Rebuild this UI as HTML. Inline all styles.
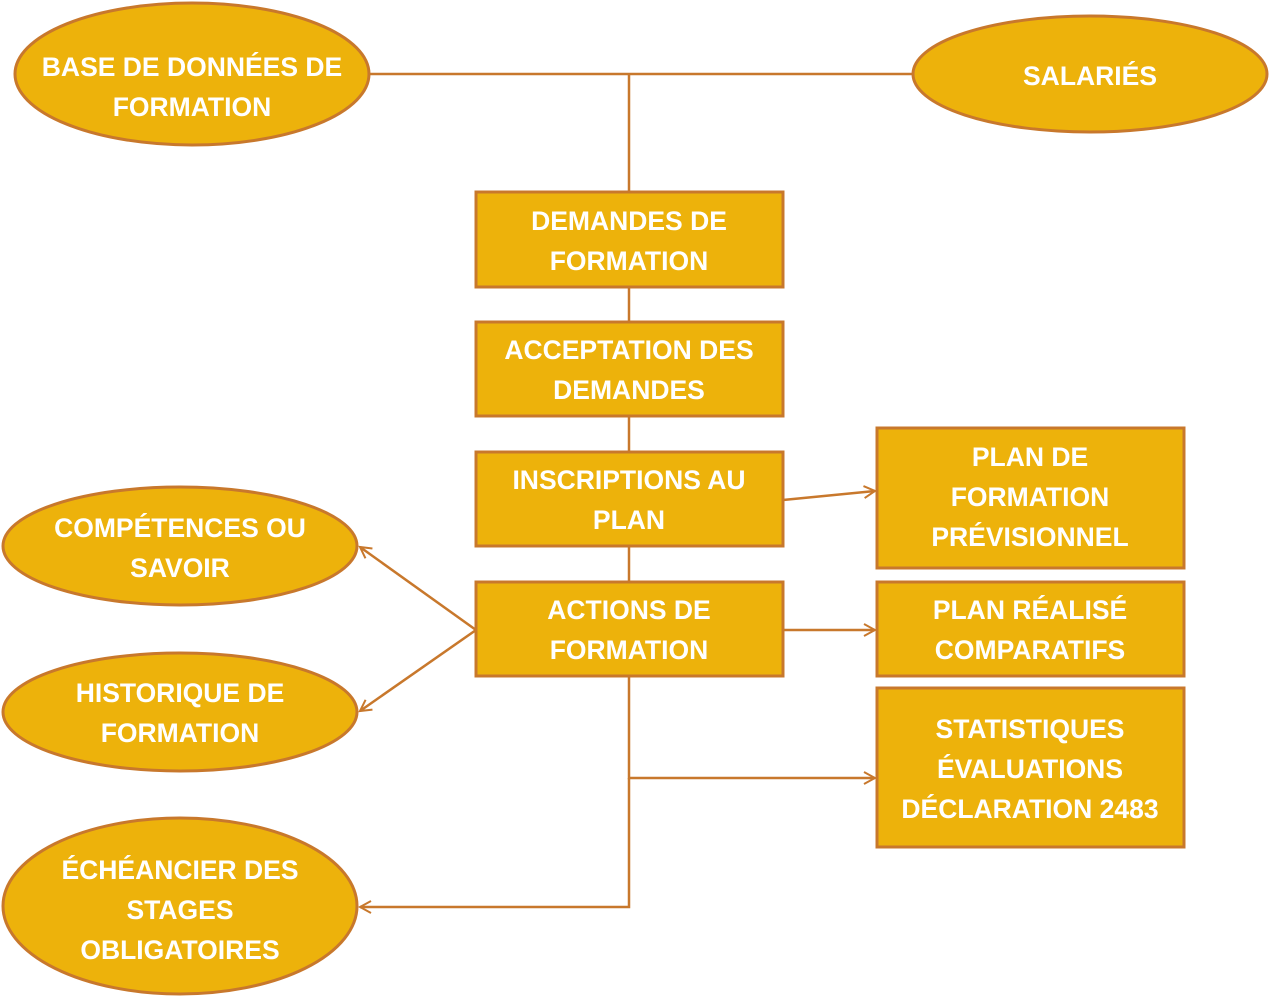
<!DOCTYPE html>
<html><head><meta charset="utf-8"><style>
html,body{margin:0;padding:0;background:#fff;}
svg{display:block;}
text{font-family:"Liberation Sans",sans-serif;font-weight:bold;font-size:26.5px;fill:#fff;text-anchor:middle;}
</style></head><body>
<svg width="1270" height="996" viewBox="0 0 1270 996" xmlns="http://www.w3.org/2000/svg">
<defs>
<marker id="a" markerWidth="14" markerHeight="14" refX="12" refY="7" orient="auto" markerUnits="userSpaceOnUse">
<path d="M1,1 L12,7 L1,13" fill="none" stroke="#C8782C" stroke-width="2"/>
</marker>
</defs>
<g stroke="#C8782C" stroke-width="2.5" fill="none">
<line x1="369" y1="74" x2="913" y2="74"/>
<line x1="629" y1="74" x2="629" y2="192"/>
<line x1="629" y1="287" x2="629" y2="322"/>
<line x1="629" y1="416" x2="629" y2="452"/>
<line x1="629" y1="546" x2="629" y2="582"/>
<line x1="783" y1="500" x2="875" y2="491" marker-end="url(#a)"/>
<line x1="783" y1="630" x2="875" y2="630" marker-end="url(#a)"/>
<polyline points="629,676 629,778 875,778" marker-end="url(#a)"/>
<polyline points="629,778 629,907 360,907" marker-end="url(#a)"/>
<line x1="476" y1="630" x2="360" y2="547" marker-end="url(#a)"/>
<line x1="476" y1="630" x2="360" y2="711" marker-end="url(#a)"/>
</g>
<g fill="#EDB20B" stroke="#C8782C" stroke-width="3">
<ellipse cx="192" cy="74" rx="177" ry="71"/>
<ellipse cx="1090" cy="74" rx="177" ry="58"/>
<ellipse cx="180" cy="546" rx="177" ry="59"/>
<ellipse cx="180" cy="712" rx="177" ry="59"/>
<ellipse cx="180" cy="906" rx="177" ry="88"/>
<rect x="476" y="192" width="307" height="95"/>
<rect x="476" y="322" width="307" height="94"/>
<rect x="476" y="452" width="307" height="94"/>
<rect x="476" y="582" width="307" height="94"/>
<rect x="877" y="428" width="307" height="140"/>
<rect x="877" y="582" width="307" height="94"/>
<rect x="877" y="688" width="307" height="159"/>
</g>
<text x="192" y="76">BASE DE DONNÉES DE</text>
<text x="192" y="116">FORMATION</text>
<text x="1090" y="85">SALARIÉS</text>
<text x="629" y="230">DEMANDES DE</text>
<text x="629" y="270">FORMATION</text>
<text x="629" y="359">ACCEPTATION DES</text>
<text x="629" y="399">DEMANDES</text>
<text x="629" y="489">INSCRIPTIONS AU</text>
<text x="629" y="529">PLAN</text>
<text x="629" y="619">ACTIONS DE</text>
<text x="629" y="659">FORMATION</text>
<text x="1030" y="466">PLAN DE</text>
<text x="1030" y="506">FORMATION</text>
<text x="1030" y="546">PRÉVISIONNEL</text>
<text x="1030" y="619">PLAN RÉALISÉ</text>
<text x="1030" y="659">COMPARATIFS</text>
<text x="1030" y="738">STATISTIQUES</text>
<text x="1030" y="778">ÉVALUATIONS</text>
<text x="1030" y="818">DÉCLARATION 2483</text>
<text x="180" y="537">COMPÉTENCES OU</text>
<text x="180" y="577">SAVOIR</text>
<text x="180" y="702">HISTORIQUE DE</text>
<text x="180" y="742">FORMATION</text>
<text x="180" y="879">ÉCHÉANCIER DES</text>
<text x="180" y="919">STAGES</text>
<text x="180" y="959">OBLIGATOIRES</text>
</svg>
</body></html>
